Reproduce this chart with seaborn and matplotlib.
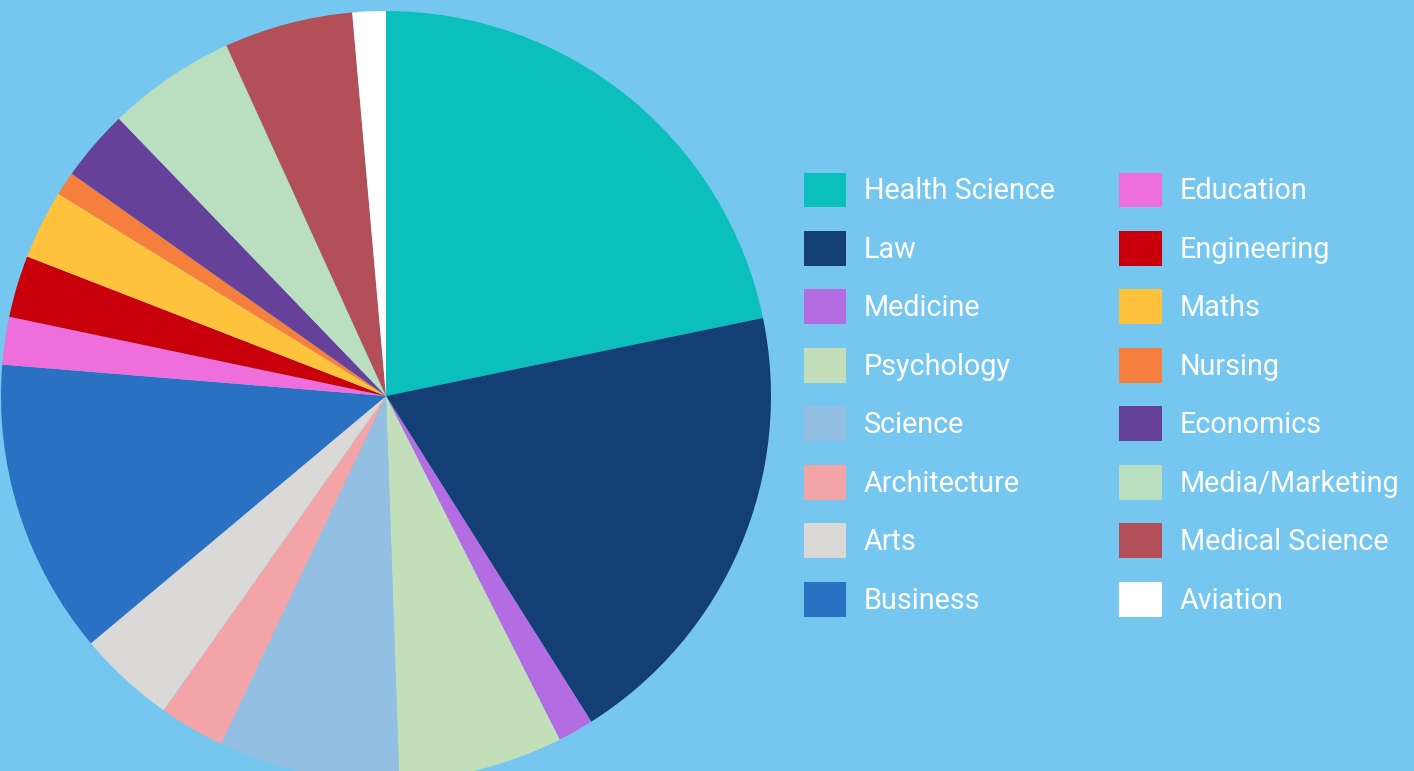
import matplotlib
matplotlib.use("Agg")
import matplotlib.pyplot as plt
import seaborn as sns

# Share of students by field of study (%)
fields = ['Health Science', 'Law', 'Medicine', 'Psychology', 'Science',
          'Architecture', 'Arts', 'Business', 'Education', 'Engineering',
          'Maths', 'Nursing', 'Economics', 'Media/Marketing',
          'Medical Science', 'Aviation']
shares = [21.75, 19.3, 1.5, 6.9, 7.6, 2.75, 4.1, 12.4, 2.0, 2.6,
          2.9, 1.0, 3.0, 5.4, 5.4, 1.4]
colors = ['#0BC0BC', '#143F75', '#B46CE2', '#C3DFB9', '#93C0E2',
          '#F2A4A6', '#DAD9D8', '#2A71C4', '#EE6FDC', '#C9000B',
          '#FFC23D', '#F57F3D', '#65419A', '#B9DFC0', '#B35057', '#FFFFFF']
bg = '#76C7EF'

sns.set_style('white')
plt.rcParams['font.family'] = ['Roboto', 'DejaVu Sans']

fig = plt.figure(figsize=(14.14, 7.71), dpi=100, facecolor=bg)

# pie axes: centre ~ (386, 396) px, radius ~385 px, bottom cut off by figure
W, H = 1414, 771
cx, cy, r = 386, 396, 385
ax = fig.add_axes([(cx - r) / W, (H - cy - r) / H, 2 * r / W, 2 * r / H])
ax.set_facecolor(bg)
wedges, _ = ax.pie(shares, colors=sns.color_palette(colors), startangle=90,
                   counterclock=False, radius=1,
                   wedgeprops=dict(linewidth=0))
ax.set_xlim(-1, 1)
ax.set_ylim(-1, 1)
ax.set_aspect('equal')
ax.axis('off')

leg = fig.legend(wedges, fields, ncol=2, loc='upper left',
                 bbox_to_anchor=(792 / W, 1 - 161 / H),
                 frameon=False, fontsize=20.7, labelcolor='white',
                 handlelength=1.47, handleheight=1.49, handletextpad=0.63,
                 labelspacing=0.82, columnspacing=2.25, borderaxespad=0)

fig.savefig('out.png', dpi=100, facecolor=bg)
